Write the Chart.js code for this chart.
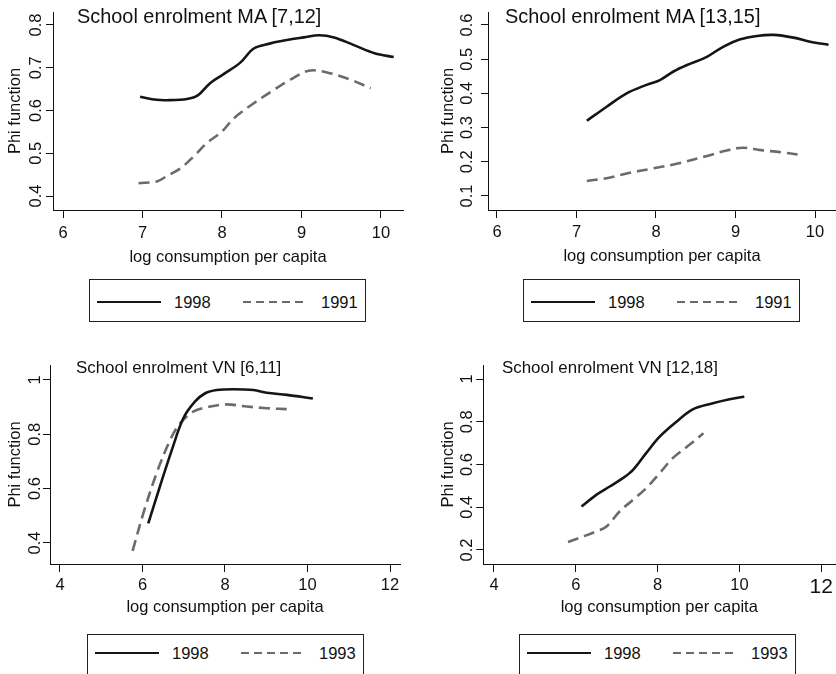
<!DOCTYPE html>
<html><head><meta charset="utf-8">
<script src="https://cdn.jsdelivr.net/npm/chart.js@4.4.0/dist/chart.umd.min.js"></script>
<style>
html,body{margin:0;padding:0;background:#fff;overflow:hidden;width:836px;height:674px;position:relative}
canvas{position:absolute}
.title{position:absolute;font-family:'Liberation Sans',Arial,sans-serif;color:#111;white-space:nowrap;line-height:1}
.legend{position:absolute;border:1px solid #222;box-sizing:border-box;font-family:'Liberation Sans',Arial,sans-serif;font-size:16.5px;color:#111;background:#fff}
.legend span{position:absolute;line-height:18px;white-space:nowrap}
.legend svg{position:absolute;left:0;top:0;overflow:visible}
</style>
</head><body>
<script>
// ---- data ----
const xTicksTop = [6, 7, 8, 9, 10];
const xTicksBottom = [4, 6, 8, 10, 12];
const yTicksP1 = [0.4, 0.5, 0.6, 0.7, 0.8];
const yTicksP2 = [0.1, 0.2, 0.3, 0.4, 0.5, 0.6];
const yTicksP3 = [0.4, 0.6, 0.8, 1];
const yTicksP4 = [0.2, 0.4, 0.6, 0.8, 1];

const titles = ['School enrolment MA [7,12]', 'School enrolment MA [13,15]', 'School enrolment VN [6,11]', 'School enrolment VN [12,18]'];
const legendTop = ['1998', '1991'];
const legendBottom = ['1998', '1993'];
const xTitle = 'log consumption per capita';
const yTitle = 'Phi function';

// Panel 1: MA [7,12]
const p1x98 = [6.97, 7.18, 7.30, 7.56, 7.70, 7.85, 8.02, 8.23, 8.40, 8.61, 8.82, 9.03, 9.22, 9.41, 9.66, 9.92, 10.16];
const p1y98 = [0.632, 0.625, 0.624, 0.627, 0.636, 0.664, 0.685, 0.712, 0.745, 0.757, 0.765, 0.771, 0.776, 0.771, 0.753, 0.734, 0.725];
const p1x91 = [6.95, 7.18, 7.30, 7.48, 7.64, 7.81, 8.00, 8.15, 8.40, 8.65, 8.86, 9.09, 9.32, 9.62, 9.87];
const p1y91 = [0.430, 0.434, 0.446, 0.465, 0.492, 0.524, 0.551, 0.582, 0.617, 0.648, 0.672, 0.693, 0.689, 0.672, 0.652];
// Panel 2: MA [13,15]
const p2x98 = [7.13, 7.38, 7.63, 7.88, 8.05, 8.22, 8.39, 8.64, 8.85, 9.06, 9.27, 9.48, 9.73, 9.94, 10.17];
const p2y98 = [0.320, 0.361, 0.400, 0.425, 0.439, 0.464, 0.483, 0.507, 0.537, 0.558, 0.568, 0.571, 0.563, 0.551, 0.542];
const p2x91 = [7.13, 7.38, 7.63, 7.97, 8.26, 8.64, 8.89, 9.09, 9.32, 9.57, 9.82];
const p2y91 = [0.144, 0.152, 0.166, 0.181, 0.194, 0.217, 0.233, 0.241, 0.234, 0.228, 0.220];
// Panel 3: VN [6,11]
const p3x98 = [6.14, 6.42, 6.71, 6.99, 7.27, 7.52, 7.80, 8.20, 8.69, 9.01, 9.50, 10.13];
const p3y98 = [0.472, 0.607, 0.742, 0.859, 0.920, 0.951, 0.963, 0.966, 0.963, 0.953, 0.945, 0.932];
const p3x93 = [5.76, 6.02, 6.34, 6.67, 6.91, 7.23, 7.64, 8.04, 8.53, 9.01, 9.58];
const p3y93 = [0.371, 0.509, 0.656, 0.779, 0.840, 0.883, 0.902, 0.910, 0.902, 0.896, 0.892];
// Panel 4: VN [12,18]
const p4x98 = [6.14, 6.50, 6.83, 7.15, 7.40, 7.72, 8.05, 8.46, 8.86, 9.35, 9.76, 10.12];
const p4y98 = [0.403, 0.458, 0.497, 0.536, 0.575, 0.653, 0.730, 0.800, 0.858, 0.886, 0.905, 0.917];
const p4x93 = [5.81, 6.18, 6.50, 6.75, 7.07, 7.40, 7.72, 8.05, 8.37, 8.78, 9.12];
const p4y93 = [0.237, 0.263, 0.287, 0.310, 0.380, 0.435, 0.489, 0.559, 0.630, 0.692, 0.746];

// ---- layout / style ----
const FAMILY = "'Liberation Sans', Arial, Helvetica, sans-serif";
const FS = 16.5;
const LH = FS * 1.2;
const INK = '#111';
const SOLID = '#151515';
const DASH = '#6b6b6b';

const panels = [
  {left:0, top:0, w:420, h:340, area:{l:53, t:12, r:403, b:210}, yTickC:36.5, yTitleC:15, xTickC:233, xTitleC:257,
   xr:[5.874, 10.277], yr:[0.3673, 0.8304], xt:xTicksTop, yt:yTicksP1, title:titles[0], tx:77, ty:17, tfs:19.9,
   lx:89, ly:279, lh:43, lineY:23, labels:legendTop, s98:[p1x98,p1y98], sOld:[p1x91,p1y91], big12:false},
  {left:420, top:0, w:416, h:340, area:{l:68, t:12, r:416, b:210}, yTickC:47.5, yTitleC:28.3, xTickC:232.5, xTitleC:256.5,
   xr:[5.887, 10.264], yr:[0.059, 0.638], xt:xTicksTop, yt:yTicksP2, title:titles[1], tx:85, ty:17, tfs:19.9,
   lx:103, ly:279, lh:43, lineY:23, labels:legendTop, s98:[p2x98,p2y98], sOld:[p2x91,p2y91], big12:false},
  {left:0, top:340, w:420, h:334, area:{l:50, t:25, r:400, b:224}, yTickC:35, yTitleC:15, xTickC:245, xTitleC:267,
   xr:[3.758, 12.242], yr:[0.3227, 1.055], xt:xTicksBottom, yt:yTicksP3, title:titles[2], tx:76, ty:28, tfs:16.9,
   lx:87, ly:294, lh:60, lineY:19, labels:legendBottom, s98:[p3x98,p3y98], sOld:[p3x93,p3y93], big12:false},
  {left:420, top:340, w:416, h:334, area:{l:63.3, t:25, r:416, b:224}, yTickC:47.5, yTitleC:28, xTickC:245, xTitleC:267,
   xr:[3.739, 12.341], yr:[0.1345, 1.0655], xt:xTicksBottom, yt:yTicksP4, title:titles[3], tx:82, ty:28, tfs:16.9,
   lx:99, ly:294, lh:60, lineY:19, labels:legendBottom, s98:[p4x98,p4y98], sOld:[p4x93,p4y93], big12:true}
];

const mctx = document.createElement('canvas').getContext('2d');
mctx.font = FS + 'px ' + FAMILY;

panels.forEach((p, idx) => {
  const cv = document.createElement('canvas');
  cv.width = p.w; cv.height = p.h;
  cv.style.left = p.left + 'px'; cv.style.top = p.top + 'px';
  cv.style.width = p.w + 'px'; cv.style.height = p.h + 'px';
  document.body.appendChild(cv);

  const a = p.area;
  const xTL = 8, yTL = 7;
  const xPad = p.xTickC - a.b - xTL - LH / 2;
  const H = (p.xTitleC - a.b) + LH / 2 + 2;
  const widest = Math.max(...p.yt.map(v => mctx.measureText(String(v)).width));
  const yPad = (a.l - p.yTickC) - yTL - widest / 2;

  const mk = (xs, ys) => xs.map((x, i) => ({x: x, y: ys[i]}));

  new Chart(cv, {
    type: 'line',
    data: {
      datasets: [
        {label: p.labels[0], data: mk(p.s98[0], p.s98[1]), borderColor: SOLID, borderWidth: 2.6, pointRadius: 0, tension: 0.35, fill: false},
        {label: p.labels[1], data: mk(p.sOld[0], p.sOld[1]), borderColor: DASH, borderWidth: 2.6, borderDash: [11, 6], pointRadius: 0, tension: 0.35, fill: false}
      ]
    },
    options: {
      responsive: false, animation: false, devicePixelRatio: 1,
      layout: {padding: {left: 0, top: a.t, right: p.w - a.r, bottom: p.h - a.b - H}},
      plugins: {legend: {display: false}, tooltip: {enabled: false}},
      scales: {
        x: {
          type: 'linear', min: p.xr[0], max: p.xr[1],
          afterBuildTicks: s => { s.ticks = p.xt.map(v => ({value: v})); },
          afterFit: s => { s.height = H; },
          ticks: {autoSkip: false, minRotation: 0, maxRotation: 0, padding: xPad, color: INK,
            font: c => ({family: FAMILY, size: (p.big12 && c.tick && c.tick.value === 12) ? 21 : FS}),
            callback: v => String(v)},
          grid: {drawOnChartArea: false, drawTicks: true, tickLength: xTL, color: INK, lineWidth: 1},
          border: {display: true, color: INK, width: 1},
          title: {display: true, text: xTitle, color: INK, font: {family: FAMILY, size: FS}, padding: {top: 0, bottom: 2}}
        },
        y: {
          type: 'linear', min: p.yr[0], max: p.yr[1],
          afterBuildTicks: s => { s.ticks = p.yt.map(v => ({value: v})); },
          afterFit: s => { s.width = a.l; },
          ticks: {autoSkip: false, minRotation: 90, maxRotation: 90, crossAlign: 'center', padding: yPad, color: INK,
            font: {family: FAMILY, size: FS}, callback: v => String(v)},
          grid: {drawOnChartArea: false, drawTicks: true, tickLength: yTL, color: INK, lineWidth: 1},
          border: {display: true, color: INK, width: 1},
          title: {display: true, text: yTitle, color: INK, font: {family: FAMILY, size: FS}, padding: {top: p.yTitleC - LH / 2, bottom: 0}}
        }
      }
    }
  });

  // title
  const t = document.createElement('div');
  t.className = 'title';
  t.textContent = p.title;
  t.style.fontSize = p.tfs + 'px';
  t.style.left = (p.left + p.tx) + 'px';
  t.style.top = (p.top + p.ty - p.tfs / 2) + 'px';
  document.body.appendChild(t);

  // legend
  const lg = document.createElement('div');
  lg.className = 'legend';
  lg.style.left = (p.left + p.lx) + 'px';
  lg.style.top = (p.top + p.ly) + 'px';
  lg.style.width = '277px';
  lg.style.height = p.lh + 'px';
  const ly = p.lineY - 1;
  lg.innerHTML =
    '<svg width="277" height="' + p.lh + '">' +
    '<line x1="7" y1="' + ly + '" x2="71" y2="' + ly + '" stroke="' + SOLID + '" stroke-width="2"/>' +
    '<line x1="153" y1="' + ly + '" x2="218" y2="' + ly + '" stroke="' + DASH + '" stroke-width="2" stroke-dasharray="8 5"/>' +
    '</svg>' +
    '<span style="left:84px;top:' + (ly - 9) + 'px">' + p.labels[0] + '</span>' +
    '<span style="left:231px;top:' + (ly - 9) + 'px">' + p.labels[1] + '</span>';
  document.body.appendChild(lg);
});
</script>
</body></html>
